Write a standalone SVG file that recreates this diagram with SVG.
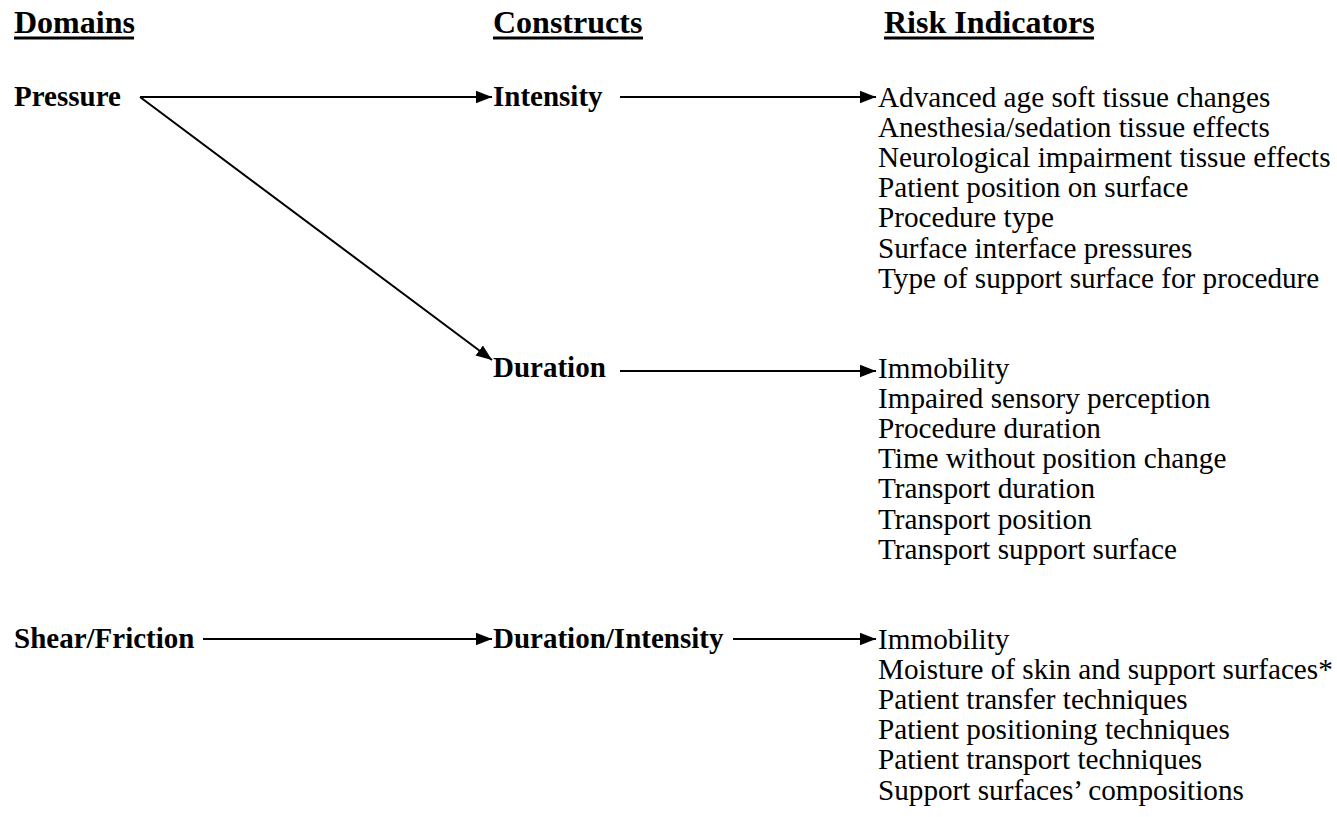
<svg xmlns="http://www.w3.org/2000/svg" width="1337" height="817" viewBox="0 0 1337 817">
<style>
text{font-family:"Liberation Serif","Times New Roman",serif;fill:#000}
.h{font-size:32px;font-weight:bold}
.b{font-size:29px;font-weight:bold}
.t{font-size:29.2px}
.c{stroke:#000;stroke-width:2;fill:none}
.u{fill:#000}
</style>
<defs>
<marker id="ah" markerUnits="userSpaceOnUse" markerWidth="18" markerHeight="14" refX="16" refY="7" orient="auto">
<polygon points="0,0.8 16,7 0,13.2" fill="#000"/>
</marker>
</defs>
<rect width="1337" height="817" fill="#fff"/>
<g id="headings">
<text class="h" x="14" y="33">Domains</text>
<rect class="u" x="14" y="36.5" width="120" height="3"/>
<text class="h" x="493" y="33">Constructs</text>
<rect class="u" x="493" y="36.5" width="150" height="3"/>
<text class="h" x="884" y="33">Risk Indicators</text>
<rect class="u" x="884" y="36.5" width="210" height="3"/>
</g>
<g id="connectors">
<line class="c" x1="140" y1="97" x2="492" y2="97" marker-end="url(#ah)"/>
<line class="c" x1="140" y1="97" x2="492" y2="360" marker-end="url(#ah)"/>
<line class="c" x1="620" y1="97" x2="876" y2="97" marker-end="url(#ah)"/>
<line class="c" x1="620" y1="371" x2="876" y2="371" marker-end="url(#ah)"/>
<line class="c" x1="203" y1="639" x2="492" y2="639" marker-end="url(#ah)"/>
<line class="c" x1="733" y1="639" x2="876" y2="639" marker-end="url(#ah)"/>
</g>
<g id="pressure"><text class="b" x="14" y="106">Pressure</text></g>
<g id="shear"><text class="b" x="14" y="648">Shear/Friction</text></g>
<g id="intensity"><text class="b" x="493" y="106">Intensity</text></g>
<g id="duration"><text class="b" x="493" y="377">Duration</text></g>
<g id="durint"><text class="b" x="493" y="648">Duration/Intensity</text></g>
<g id="intensity-risks">
<text class="t" x="878" y="106.5">Advanced age soft tissue changes</text>
<text class="t" x="878" y="136.7">Anesthesia/sedation tissue effects</text>
<text class="t" x="878" y="166.9">Neurological impairment tissue effects</text>
<text class="t" x="878" y="197.1">Patient position on surface</text>
<text class="t" x="878" y="227.3">Procedure type</text>
<text class="t" x="878" y="257.5">Surface interface pressures</text>
<text class="t" x="878" y="287.7">Type of support surface for procedure</text>
</g>
<g id="duration-risks">
<text class="t" x="878" y="377.5">Immobility</text>
<text class="t" x="878" y="407.7">Impaired sensory perception</text>
<text class="t" x="878" y="437.9">Procedure duration</text>
<text class="t" x="878" y="468.1">Time without position change</text>
<text class="t" x="878" y="498.3">Transport duration</text>
<text class="t" x="878" y="528.5">Transport position</text>
<text class="t" x="878" y="558.7">Transport support surface</text>
</g>
<g id="shear-risks">
<text class="t" x="878" y="648.5">Immobility</text>
<text class="t" x="878" y="678.7">Moisture of skin and support surfaces*</text>
<text class="t" x="878" y="708.9">Patient transfer techniques</text>
<text class="t" x="878" y="739.1">Patient positioning techniques</text>
<text class="t" x="878" y="769.3">Patient transport techniques</text>
<text class="t" x="878" y="799.5">Support surfaces’ compositions</text>
</g>
</svg>
